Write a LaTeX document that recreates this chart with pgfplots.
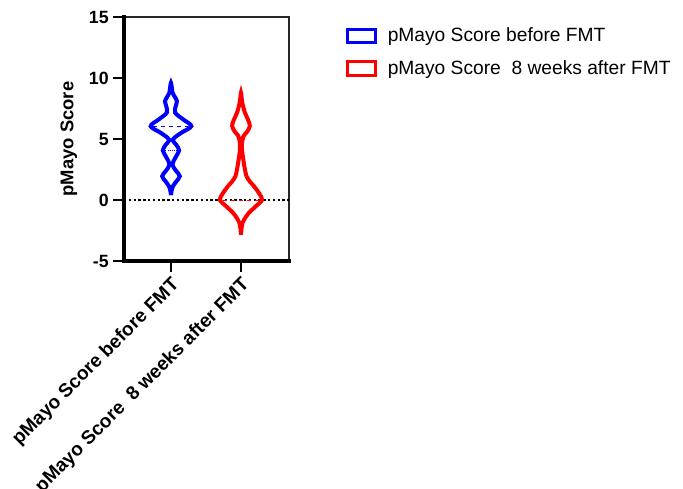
\documentclass[border=0pt]{standalone}
\usepackage{fontspec}
\setmainfont{Liberation Sans}
\usepackage{pgfplots}
\pgfplotsset{compat=1.18}
\definecolor{vblue}{RGB}{0,0,255}
\definecolor{vred}{RGB}{255,0,0}
\begin{document}
\begin{tikzpicture}
\path[use as bounding box] (0,0) rectangle (512.25pt,366.75pt);
\begin{axis}[
  at={(93pt,171pt)}, anchor=south west,
  scale only axis, width=123.75pt, height=183pt,
  xmin=-0.671, xmax=1.686, ymin=-5, ymax=15,
  ytick={-5,0,5,10,15}, xtick={0,1},
  xticklabels={pMayo Score before FMT,pMayo Score\ \ 8 weeks after FMT},
  x tick label style={rotate=45, anchor=north east, font=\fontsize{14.3}{16}\selectfont\bfseries, inner sep=1.5pt, xshift=-1pt},
  y tick label style={font=\fontsize{13.3}{15}\selectfont\bfseries},
  /pgf/number format/assume math mode=true,
  ylabel={pMayo Score},
  ylabel style={font=\fontsize{13.8}{15}\selectfont\bfseries, yshift=2pt},
  tick align=outside, xtick pos=bottom, ytick pos=left,
  major tick length=8pt,
  tick style={line width=2.2pt, black},
  axis line style={line width=1.1pt, black!85},
  legend style={at={(rel axis cs:1.318,0.978)}, anchor=north west, draw=none, fill=none,
    font=\fontsize{14.4}{17}\selectfont, row sep=8.5pt},
  legend cell align=left,
  legend image code/.code={\draw[line width=2.1pt, #1] (0pt,-5pt) rectangle (21.5pt,5pt); \path (27pt,0pt);},
  clip=false,
]
\addplot[black, line width=1.7pt, dash pattern=on 1.8pt off 1.8pt, forget plot] coordinates {(-0.671,0) (1.686,0)};
\addplot[vblue, line width=3pt, smooth, tension=0.55] coordinates {
(0,0.4) (0.01,0.8) (0.029,1.13) (0.073,1.5) (0.126,1.95) (0.071,2.4) (0.021,2.91) (0.066,3.5) (0.116,4.06) (0.079,4.5) (0.029,4.96) (0.145,5.5) (0.29,6.05) (0.175,6.6) (0.06,7.15) (0.068,7.7) (0.085,8.1) (0.055,8.45) (0.022,8.8) (0.014,9.15) (0,9.6) (-0.014,9.15) (-0.022,8.8) (-0.055,8.45) (-0.085,8.1) (-0.068,7.7) (-0.06,7.15) (-0.175,6.6) (-0.29,6.05) (-0.145,5.5) (-0.029,4.96) (-0.079,4.5) (-0.116,4.06) (-0.066,3.5) (-0.021,2.91) (-0.071,2.4) (-0.126,1.95) (-0.073,1.5) (-0.029,1.13) (-0.01,0.8) (0,0.4)};
\addlegendentry{pMayo Score before FMT}
\addplot[vred, line width=3pt, smooth, tension=0.55] coordinates {
(1,-2.85) (1.008,-2.3) (1.021,-1.9) (1.057,-1.5) (1.114,-1.05) (1.214,-0.5) (1.3,0) (1.264,0.5) (1.186,1.13) (1.129,1.5) (1.079,1.95) (1.057,2.5) (1.04,3.05) (1.026,3.6) (1.014,4.14) (1.014,4.6) (1.036,5.23) (1.088,5.6) (1.126,6.05) (1.107,6.5) (1.057,7.15) (1.021,7.9) (1.011,8.3) (1,8.8) (0.989,8.3) (0.979,7.9) (0.943,7.15) (0.893,6.5) (0.874,6.05) (0.912,5.6) (0.964,5.23) (0.986,4.6) (0.986,4.14) (0.974,3.6) (0.96,3.05) (0.943,2.5) (0.921,1.95) (0.871,1.5) (0.814,1.13) (0.736,0.5) (0.7,0) (0.786,-0.5) (0.886,-1.05) (0.943,-1.5) (0.979,-1.9) (0.992,-2.3) (1,-2.85)};
\addlegendentry{pMayo Score\ \ 8 weeks after FMT}
\addplot[vblue, dashed, line width=0.6pt, forget plot] coordinates {(-0.25,6.05) (0.25,6.05)};
\addplot[vblue, densely dotted, line width=0.6pt, forget plot] coordinates {(-0.08,4.06) (0.08,4.06)};
\addplot[vred, dashed, line width=0.6pt, forget plot] coordinates {(0.74,0) (1.26,0)};
\addplot[vred, densely dotted, line width=0.6pt, forget plot] coordinates {(0.97,5.23) (1.03,5.23)};
\draw[line width=2.3pt, black, line cap=rect] (rel axis cs:0,1) -- (rel axis cs:0,0) -- (rel axis cs:1,0);
\end{axis}
\end{tikzpicture}
\end{document}
